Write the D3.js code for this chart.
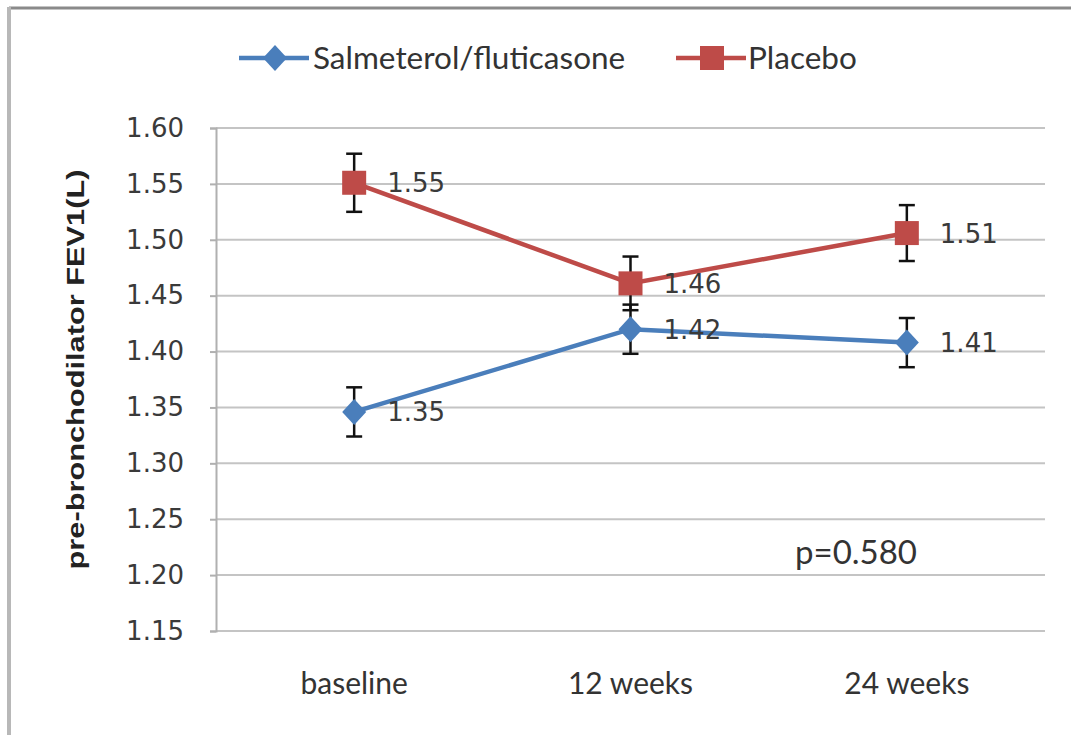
<!DOCTYPE html>
<html><head><meta charset="utf-8">
<script src="https://cdn.jsdelivr.net/npm/d3@7/dist/d3.min.js"></script>
<style>html,body{margin:0;padding:0;background:#fff;}svg{display:block;}</style>
</head><body>
<svg id="c" width="1071" height="735"></svg>
<script>
const categories = ["baseline", "12 weeks", "24 weeks"];
const seriesNames = ["Salmeterol/fluticasone", "Placebo"];
const salmeterol = [1.346, 1.420, 1.408];
const salmeterolErr = [0.022, 0.022, 0.022];
const placebo = [1.551, 1.461, 1.506];
const placeboErr = [0.026, 0.024, 0.025];
const labelsSalmeterol = ["1.35", "1.42", "1.41"];
const labelsPlacebo = ["1.55", "1.46", "1.51"];
const yTicks = [1.15, 1.20, 1.25, 1.30, 1.35, 1.40, 1.45, 1.50, 1.55, 1.60];
const yTitle = "pre-bronchodilator FEV1(L)";
const pText = "p=0.580";

const svg = d3.select("#c");
const L = 216, R = 1045, T = 128, B = 631;
const blue = "#4a7ebb", red = "#be4b48";

// outer frame (top + left)
svg.append("line").attr("x1", 9).attr("x2", 1071).attr("y1", 8).attr("y2", 8).attr("stroke", "#8a8a8a").attr("stroke-width", 3);
svg.append("line").attr("x1", 9).attr("x2", 9).attr("y1", 7).attr("y2", 735).attr("stroke", "#b8b8b8").attr("stroke-width", 4);

const x = d3.scaleBand().domain(categories).range([L, R]);
const y = d3.scaleLinear().domain([1.15, 1.60]).range([B, T]);

// gridlines
svg.append("g").selectAll("line").data(yTicks).join("line")
  .attr("x1", L).attr("x2", R).attr("y1", d => y(d)).attr("y2", d => y(d))
  .attr("stroke", "#c4c4c4").attr("stroke-width", 2);

// y axis
const yAxis = svg.append("g").attr("transform", `translate(${L},0)`)
  .call(d3.axisLeft(y).tickValues(yTicks).tickFormat(d3.format(".2f")).tickSize(6).tickPadding(26));
yAxis.select(".domain").attr("stroke", "#b0b0b0").attr("stroke-width", 2);
yAxis.selectAll(".tick line").attr("stroke", "#b0b0b0").attr("stroke-width", 2);
yAxis.selectAll(".tick text").attr("font-family", "DejaVu Sans").attr("font-size", 26).attr("fill", "#3a3a3a");

// x axis labels
const xAxis = svg.append("g").attr("transform", `translate(0,${B})`)
  .call(d3.axisBottom(x).tickSize(0).tickPadding(42));
xAxis.select(".domain").remove();
xAxis.selectAll(".tick text").attr("font-family", "Lato").attr("font-size", 30).attr("fill", "#333");

// y title
svg.append("text").attr("transform", `translate(84,${(T + B) / 2 - 10}) rotate(-90)`)
  .attr("text-anchor", "middle").attr("font-family", "Liberation Sans").attr("font-weight", "bold")
  .attr("font-size", 24).attr("fill", "#222")
  .attr("textLength", 400).attr("lengthAdjust", "spacingAndGlyphs").text(yTitle);

// p value
svg.append("text").attr("x", 795).attr("y", 564).attr("font-family", "Lato").attr("font-size", 33)
  .attr("fill", "#333").text(pText);

const line = d3.line().x((d, i) => x(categories[i]) + x.bandwidth() / 2).y(d => y(d));
const cx = i => x(categories[i]) + x.bandwidth() / 2;

function drawSeries(vals, errs, color, marker, labels) {
  const g = svg.append("g");
  g.append("path").datum(vals).attr("d", line).attr("fill", "none").attr("stroke", color).attr("stroke-width", 4.5);
  vals.forEach((v, i) => {
    const xx = cx(i);
    const eg = g.append("g").attr("stroke", "#111").attr("stroke-width", 2.5);
    eg.append("line").attr("x1", xx).attr("x2", xx).attr("y1", y(v + errs[i])).attr("y2", y(v - errs[i]));
    eg.append("line").attr("x1", xx - 8).attr("x2", xx + 8).attr("y1", y(v + errs[i])).attr("y2", y(v + errs[i]));
    eg.append("line").attr("x1", xx - 8).attr("x2", xx + 8).attr("y1", y(v - errs[i])).attr("y2", y(v - errs[i]));
  });
  vals.forEach((v, i) => {
    const xx = cx(i), yy = y(v);
    if (marker === "square") {
      g.append("rect").attr("x", xx - 12).attr("y", yy - 12).attr("width", 24).attr("height", 24).attr("fill", color);
    } else {
      g.append("path").attr("d", `M${xx},${yy - 13}L${xx + 12},${yy}L${xx},${yy + 13}L${xx - 12},${yy}Z`).attr("fill", color);
    }
    g.append("text").attr("x", xx + 33).attr("y", yy + 2).attr("dominant-baseline", "middle")
      .attr("font-family", "DejaVu Sans").attr("font-size", 26).attr("fill", "#3a3a3a").text(labels[i]);
  });
}
drawSeries(salmeterol, salmeterolErr, blue, "diamond", labelsSalmeterol);
drawSeries(placebo, placeboErr, red, "square", labelsPlacebo);

// legend
const leg = svg.append("g");
const legItems = [
  {name: seriesNames[0], color: blue, marker: "diamond", x0: 239, tx: 313},
  {name: seriesNames[1], color: red, marker: "square", x0: 676, tx: 748}
];
legItems.forEach(d => {
  const ly = 58;
  leg.append("line").attr("x1", d.x0).attr("x2", d.x0 + 70).attr("y1", ly).attr("y2", ly).attr("stroke", d.color).attr("stroke-width", 4.5);
  const mx = d.x0 + 36;
  if (d.marker === "square") leg.append("rect").attr("x", mx - 12).attr("y", ly - 12).attr("width", 24).attr("height", 24).attr("fill", d.color);
  else leg.append("path").attr("d", `M${mx},${ly - 13}L${mx + 12},${ly}L${mx},${ly + 13}L${mx - 12},${ly}Z`).attr("fill", d.color);
  leg.append("text").attr("x", d.tx).attr("y", ly + 11).attr("font-family", "Lato").attr("font-size", 31.5).attr("fill", "#333").text(d.name);
});
</script>
</body></html>
